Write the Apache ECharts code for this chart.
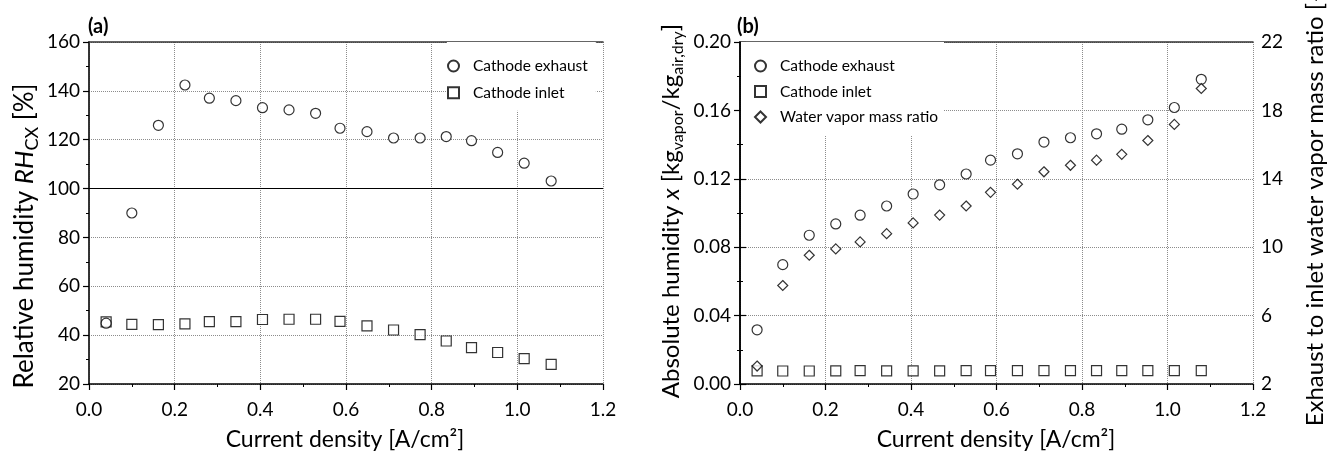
<!DOCTYPE html>
<html><head><meta charset="utf-8">
<script src="https://cdn.jsdelivr.net/npm/echarts@6/dist/echarts.min.js"></script>
<style>html,body{margin:0;padding:0;background:#fff}#c{width:1331px;height:453px}</style>
</head><body><div id="c"></div>
<script>
// current density [A/cm2]
const currentDensity = [0.040, 0.100, 0.162, 0.224, 0.281, 0.343, 0.405, 0.467, 0.529, 0.586, 0.649, 0.711, 0.773, 0.834, 0.893, 0.954, 1.016, 1.079];
// (a) relative humidity [%]
const rhExhaust = [44.9, 90.0, 125.9, 142.4, 137.0, 136.0, 133.1, 132.2, 130.8, 124.7, 123.3, 120.7, 120.7, 121.3, 119.6, 114.8, 110.4, 103.1];
const rhInlet   = [45.4, 44.4, 44.3, 44.6, 45.5, 45.5, 46.4, 46.5, 46.5, 45.6, 43.8, 42.1, 40.2, 37.6, 34.9, 32.9, 30.4, 28.0];
// (b) absolute humidity [kg/kg]
const absExhaust = [0.0317, 0.0698, 0.0870, 0.0936, 0.0987, 0.1041, 0.1111, 0.1165, 0.1228, 0.1309, 0.1346, 0.1415, 0.1440, 0.1463, 0.1490, 0.1545, 0.1617, 0.1782];
const absInlet   = [0.0077, 0.0076, 0.0076, 0.0077, 0.0078, 0.0077, 0.0077, 0.0077, 0.0078, 0.0078, 0.0078, 0.0078, 0.0078, 0.0078, 0.0078, 0.0078, 0.0078, 0.0078];
// (b) exhaust to inlet vapor mass ratio [-]
const massRatio  = [3.05, 7.76, 9.53, 9.90, 10.31, 10.79, 11.42, 11.88, 12.41, 13.21, 13.68, 14.41, 14.79, 15.09, 15.43, 16.24, 17.18, 19.28];

const pairs = (xs, ys) => xs.map((x, i) => [x, ys[i]]);
const FONT = 'Lato';
const lbl = {color: '#000', fontFamily: FONT, fontSize: 19};
const split = {show: true, lineStyle: {color: '#8c8c8c', type: [1, 1], width: 1}};
const axLine = {show: true, lineStyle: {color: '#000', width: 1.5}};
const boxLine = {show: true, lineStyle: {color: '#333', width: 1.5}};
const tick = {show: true, inside: false, length: 6, lineStyle: {color: '#000', width: 1.2}};
const minor = {show: true, splitNumber: 2, length: 3, lineStyle: {color: '#000', width: 1}};
const sym = {color: '#fff', borderColor: '#000', borderWidth: 1.2};

function xAx(gi) {
  return {type: 'value', gridIndex: gi, min: 0, max: 1.2, interval: 0.2,
    axisLine: axLine, axisTick: tick, minorTick: minor, splitLine: split,
    axisLabel: Object.assign({}, lbl, {margin: 16, formatter: v => v.toFixed(1)})};
}
function xTop(gi) {
  return {type: 'value', gridIndex: gi, position: 'top', min: 0, max: 1.2,
    axisLine: boxLine, axisTick: {show: false}, axisLabel: {show: false}, splitLine: {show: false}};
}
function richT(ts, ss) {
  return {
    n: {fontFamily: FONT, fontSize: ts, lineHeight: ts + 6, fill: '#000', verticalAlign: 'middle'},
    i: {fontFamily: FONT, fontSize: ts, lineHeight: ts + 6, fontStyle: 'italic', fill: '#000', verticalAlign: 'middle'},
    s: {fontFamily: FONT, fontSize: ss, lineHeight: ss, fill: '#000', verticalAlign: 'bottom'}
  };
}

const option = {
  animation: false,
  backgroundColor: '#fff',
  grid: [
    {left: 89, top: 42, width: 514, height: 342},
    {left: 740, top: 42, width: 513, height: 342}
  ],
  xAxis: [xAx(0), xTop(0), xAx(1), xTop(1)],
  yAxis: [
    {type: 'value', gridIndex: 0, min: 20, max: 160, interval: 20,
      axisLine: axLine, axisTick: tick, minorTick: minor, splitLine: split,
      axisLabel: Object.assign({}, lbl, {margin: 9})},
    {type: 'value', gridIndex: 0, position: 'right', min: 20, max: 160,
      axisLine: boxLine, axisTick: {show: false}, axisLabel: {show: false}, splitLine: {show: false}},
    {type: 'value', gridIndex: 1, min: 0, max: 0.2, interval: 0.04,
      axisLine: axLine, axisTick: tick, minorTick: minor, splitLine: split,
      axisLabel: Object.assign({}, lbl, {margin: 9, formatter: v => v.toFixed(2)})},
    {type: 'value', gridIndex: 1, position: 'right', min: 2, max: 22, interval: 4,
      axisLine: axLine, axisTick: tick, minorTick: minor, splitLine: {show: false},
      axisLabel: Object.assign({}, lbl, {margin: 8})}
  ],
  legend: [
    {orient: 'vertical', left: 447, top: 42, itemWidth: 11, itemHeight: 11, itemGap: 10.7,
      padding: [16, 8, 10, 0], backgroundColor: '#fff',
      data: ['Cathode exhaust', 'Cathode inlet'],
      textStyle: {color: '#000', fontFamily: FONT, fontSize: 15.5, padding: [0, 0, 0, 9]}},
    {orient: 'vertical', left: 741, top: 42, itemWidth: 11, itemHeight: 11, itemGap: 9.5,
      padding: [16, 6, 11, 13], backgroundColor: '#fff',
      data: ['Cathode exhaust', 'Cathode inlet', 'Water vapor mass ratio'],
      textStyle: {color: '#000', fontFamily: FONT, fontSize: 15.5, padding: [0, 0, 0, 9]}}
  ],
  series: [
    {name: 'Cathode exhaust', type: 'scatter', xAxisIndex: 0, yAxisIndex: 0, symbol: 'circle', symbolSize: 10,
      itemStyle: sym, data: pairs(currentDensity, rhExhaust), z: 5,
      markLine: {silent: true, symbol: 'none', label: {show: false},
        lineStyle: {color: '#000', type: 'solid', width: 1.2}, data: [{yAxis: 100}]}},
    {name: 'Cathode inlet', type: 'scatter', xAxisIndex: 0, yAxisIndex: 0, symbol: 'rect', symbolSize: 10,
      itemStyle: sym, data: pairs(currentDensity, rhInlet), z: 4},
    {name: 'Cathode exhaust', type: 'scatter', xAxisIndex: 2, yAxisIndex: 2, symbol: 'circle', symbolSize: 10,
      itemStyle: sym, data: pairs(currentDensity, absExhaust), z: 5},
    {name: 'Cathode inlet', type: 'scatter', xAxisIndex: 2, yAxisIndex: 2, symbol: 'rect', symbolSize: 10,
      itemStyle: sym, data: pairs(currentDensity, absInlet), z: 4},
    {name: 'Water vapor mass ratio', type: 'scatter', xAxisIndex: 2, yAxisIndex: 3, symbol: 'diamond', symbolSize: 10,
      itemStyle: sym, data: pairs(currentDensity, massRatio), z: 6}
  ],
  graphic: [
    {type: 'text', left: 88, top: 17, style: {text: '(a)', fontFamily: FONT, fontWeight: 'bold', fontSize: 20, fill: '#000'}},
    {type: 'text', left: 737, top: 17, style: {text: '(b)', fontFamily: FONT, fontWeight: 'bold', fontSize: 20, fill: '#000'}},
    {type: 'text', x: 345, y: 440, style: {text: 'Current density [A/cm²]', fontFamily: FONT, fontSize: 23, fill: '#000', align: 'center', verticalAlign: 'middle'}},
    {type: 'text', x: 996, y: 440, style: {text: 'Current density [A/cm²]', fontFamily: FONT, fontSize: 23, fill: '#000', align: 'center', verticalAlign: 'middle'}},
    {type: 'text', x: 25, y: 236, rotation: Math.PI / 2, style: {
      text: '{n|Relative humidity }{i|RH}{s|CX}{n| [%]}', align: 'center', verticalAlign: 'middle', rich: richT(26, 18)}},
    {type: 'text', x: 671, y: 211, rotation: Math.PI / 2, style: {
      text: '{n|Absolute humidity }{i|x}{n| [kg}{s|vapor}{n|/kg}{s|air,dry}{n|]}', align: 'center', verticalAlign: 'middle', rich: richT(24, 16)}},
    {type: 'text', x: 1315, y: 204, rotation: Math.PI / 2, style: {
      text: 'Exhaust to inlet water vapor mass ratio [–]', fontFamily: FONT, fontSize: 24, fill: '#000',
      align: 'center', verticalAlign: 'middle'}}
  ]
};
const chart = echarts.init(document.getElementById('c'), null, {renderer: 'canvas'});
chart.setOption(option);
</script>
</body></html>
